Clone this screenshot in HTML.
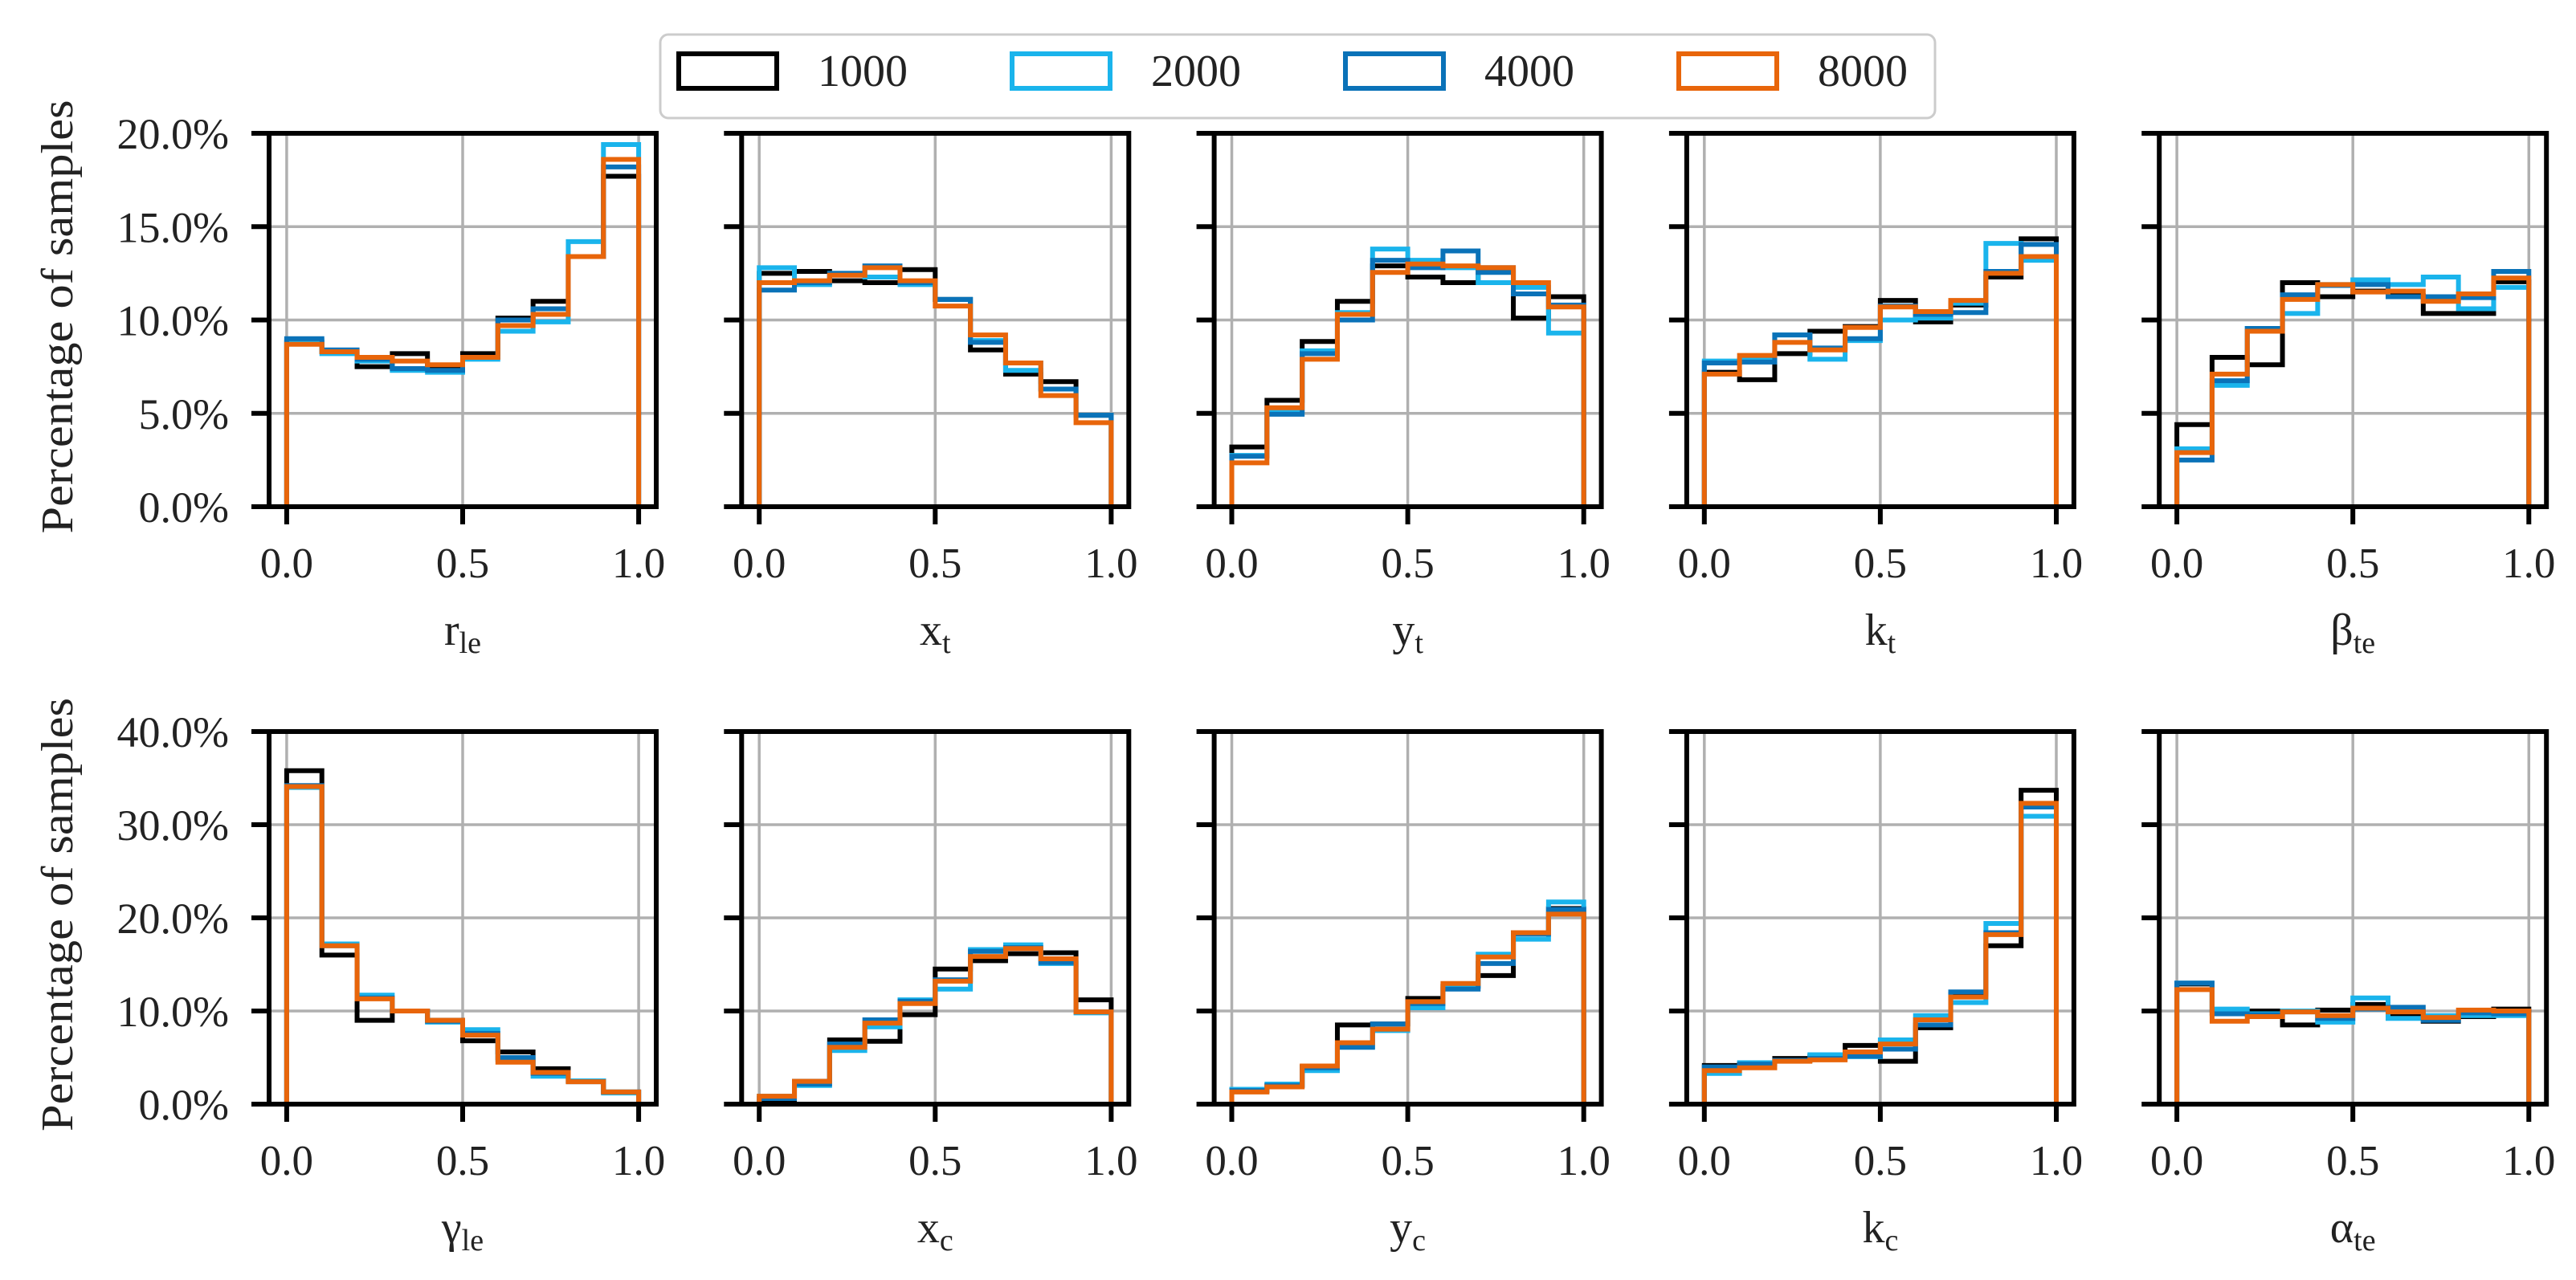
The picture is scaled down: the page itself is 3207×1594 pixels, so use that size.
<!DOCTYPE html>
<html><head><meta charset="utf-8"><style>
html,body{margin:0;padding:0;background:#fff;}
svg{display:block;font-family:"Liberation Serif","DejaVu Serif",serif;}
</style></head><body>
<svg id="chart" xmlns="http://www.w3.org/2000/svg" width="3207" height="1594" viewBox="0 0 3207 1594">
<rect width="3207" height="1594" fill="#fff"/>
<g id="legend">
<rect x="822" y="43" width="1587" height="104" rx="10" fill="#fff" stroke="#cccccc" stroke-width="3"/>
</g>
</svg>
<script>
const seriesNames = ["1000", "2000", "4000", "8000"];
const seriesColors = ["#000000", "#1ab4ec", "#0a72b8", "#e8650a"];
const panelLabels = [["r","le"],["x","t"],["y","t"],["k","t"],["β","te"],["γ","le"],["x","c"],["y","c"],["k","c"],["α","te"]];
const binEdges = [0,0.1,0.2,0.3,0.4,0.5,0.6,0.7,0.8,0.9,1.0];
const xTicks = [0, 0.5, 1.0];
const xTickLabels = ["0.0", "0.5", "1.0"];
const yTicksTop = [0, 5, 10, 15, 20];
const yTicksBottom = [0, 10, 20, 30, 40];

// values in percent, per panel: [1000, 2000, 4000, 8000]
const r_le = [[8.8,8.3,7.5,8.2,7.4,8.2,10.1,11.0,13.4,17.7],[8.9,8.2,7.8,7.3,7.2,7.9,9.4,9.9,14.2,19.4],[9.0,8.4,7.9,7.4,7.3,8.0,10.0,10.6,13.4,18.2],[8.7,8.3,8.0,7.8,7.6,8.0,9.7,10.3,13.4,18.6]];
const x_t = [[12.5,12.6,12.1,12.0,12.7,11.1,8.4,7.1,6.7,4.9],[12.8,11.9,12.5,12.3,11.9,11.1,8.9,7.3,6.3,4.9],[11.6,12.0,12.5,12.9,12.0,11.1,8.8,7.7,6.3,4.9],[12.0,12.1,12.4,12.8,12.1,10.75,9.2,7.7,5.95,4.5]];
const y_t = [[3.2,5.7,8.85,11.0,12.9,12.3,12.0,12.8,10.1,11.25],[2.75,5.1,8.35,10.4,13.8,13.2,12.8,12.0,11.75,9.3],[2.7,4.95,8.2,10.0,13.2,12.8,13.7,12.55,11.4,10.8],[2.35,5.3,7.9,10.3,12.55,13.0,12.9,12.8,12.0,10.7]];
const k_t = [[7.2,6.8,8.2,9.4,9.65,11.05,9.9,10.8,12.3,14.35],[7.8,7.9,9.2,7.9,8.9,10.0,10.1,10.9,14.1,13.2],[7.7,7.75,9.2,8.5,9.0,10.75,10.3,10.4,12.6,14.05],[7.1,8.1,8.8,8.4,9.6,10.7,10.45,11.05,12.5,13.4]];
const beta_te = [[4.4,8.0,7.6,12.0,11.25,11.55,11.3,10.35,10.35,12.05],[3.1,6.5,9.55,10.35,11.9,12.15,11.9,12.3,10.6,11.75],[2.5,6.75,9.55,11.35,11.85,11.9,11.25,11.25,11.2,12.6],[2.9,7.1,9.4,11.1,11.9,11.5,11.55,11.0,11.4,12.25]];
const gamma_le = [[35.8,16.0,9.0,10.0,9.0,6.8,5.6,3.8,2.5,1.3],[34.0,17.2,11.7,10.0,8.8,8.0,4.8,3.0,2.5,1.2],[34.2,17.0,11.4,10.0,8.9,7.6,5.0,3.3,2.4,1.3],[34.1,17.0,11.3,10.0,9.0,7.4,4.5,3.4,2.4,1.3]];
const x_c = [[0.3,2.45,6.9,6.75,9.6,14.5,15.4,16.15,16.25,11.2],[0.85,2.0,5.75,8.3,11.2,12.35,16.6,17.1,15.1,9.8],[0.6,2.15,6.45,9.05,11.05,13.35,16.4,16.8,15.2,9.9],[0.85,2.45,6.1,8.7,10.8,13.2,15.85,16.7,15.6,9.9]];
const y_c = [[1.45,2.0,4.0,8.5,8.6,11.35,12.65,13.8,18.4,21.0],[1.6,2.15,3.6,6.2,7.9,10.35,12.65,16.1,17.7,21.7],[1.45,2.0,3.9,6.1,8.6,10.8,12.35,15.1,18.25,20.9],[1.3,1.85,4.1,6.6,8.05,11.0,12.95,15.8,18.4,20.4]];
const k_c = [[4.15,4.3,4.9,5.15,6.3,4.6,8.2,11.8,17.0,33.7],[3.3,4.45,4.65,5.3,5.1,6.9,9.5,10.9,19.4,30.9],[4.0,4.3,4.7,4.9,5.15,5.9,8.5,12.05,18.4,31.9],[3.6,3.9,4.6,4.75,5.6,6.45,9.05,11.5,18.2,32.3]];
const alpha_te = [[12.9,9.8,10.0,8.5,10.1,10.7,9.6,8.9,9.4,10.2],[13.0,10.2,9.7,10.0,8.8,11.4,9.2,9.5,9.5,9.5],[13.0,9.7,9.6,9.9,9.2,10.2,10.4,9.0,9.8,9.7],[12.3,8.9,9.4,9.9,9.5,10.3,9.9,9.3,10.1,10.0]];
const panelData = [r_le, x_t, y_t, k_t, beta_te, gamma_le, x_c, y_c, k_c, alpha_te];

const NS = "http://www.w3.org/2000/svg";
const svg = document.getElementById("chart");
const PW = 482, COL0 = 335, COLSTEP = 588.3;
const ROWS = [{top:166, bottom:631, ymax:20, ticks:yTicksTop},{top:911, bottom:1375, ymax:40, ticks:yTicksBottom}];

function mk(tag, attrs, parent){
  const e = document.createElementNS(NS, tag);
  for (const k in attrs) e.setAttribute(k, attrs[k]);
  (parent||svg).appendChild(e);
  return e;
}

for (let p = 0; p < 10; p++) {
  const row = ROWS[Math.floor(p/5)], col = p % 5;
  const left = COL0 + col*COLSTEP;
  const xs = v => left + (v + 0.05) / 1.1 * PW;
  const ys = v => row.bottom - v / row.ymax * (row.bottom - row.top);
  const g = mk("g", {});
  
  
  xTicks.forEach(t => {
    const l = mk("line", {x1:xs(t), x2:xs(t), y1:row.top, y2:row.bottom, stroke:"#b0b0b0", "stroke-width":3.5}, g);
    
    
  });
  row.ticks.forEach(t => {
    const l = mk("line", {x1:left, x2:left+PW, y1:ys(t), y2:ys(t), stroke:"#b0b0b0", "stroke-width":3.5}, g);
    
    
  });
  panelData[p].forEach((vals, s) => {
    let d = "M" + xs(binEdges[0]) + "," + ys(0);
    vals.forEach((v, i) => {
      d += " L" + xs(binEdges[i]) + "," + ys(v) + " L" + xs(binEdges[i+1]) + "," + ys(v);
    });
    d += " L" + xs(binEdges[binEdges.length-1]) + "," + ys(0);
    const path = mk("path", {d:d, fill:"none", stroke:seriesColors[s], "stroke-width":6, "stroke-linejoin":"miter"}, g);
    
    
  });
  const box = mk("rect", {x:left, y:row.top, width:PW, height:row.bottom-row.top, fill:"none", stroke:"#000", "stroke-width":6}, g);
  
  
  xTicks.forEach((t, i) => {
    const tk = mk("line", {x1:xs(t), x2:xs(t), y1:row.bottom, y2:row.bottom+22, stroke:"#000", "stroke-width":6}, g);
    
    
    const tl = mk("text", {x:xs(t), y:row.bottom+88, "font-size":53, "text-anchor":"middle", fill:"#222"}, g);
    tl.textContent = xTickLabels[i];
    
    
  });
  row.ticks.forEach(t => {
    const tk = mk("line", {x1:left-22, x2:left, y1:ys(t), y2:ys(t), stroke:"#000", "stroke-width":6}, g);
    
    
    if (col === 0) {
      const tl = mk("text", {x:285, y:ys(t)+19, "font-size":54, "text-anchor":"end", fill:"#222"}, g);
      tl.textContent = t.toFixed(1) + "%";
      
      
    }
  });
  const xl = mk("text", {x:xs(0.5), y:row.bottom+172, "font-size":56, "text-anchor":"middle", fill:"#222"}, g);
  
  
  const m = document.createElementNS(NS, "tspan"); m.textContent = panelLabels[p][0]; xl.appendChild(m);
  const sb = document.createElementNS(NS, "tspan"); sb.setAttribute("font-size", "38"); sb.setAttribute("dy", "10"); sb.textContent = panelLabels[p][1]; xl.appendChild(sb);
  if (col === 0) {
    const cy = (row.top + row.bottom) / 2 - 4;
    const yl = mk("text", {x:0, y:0, transform:"translate(90," + cy + ") rotate(-90)", "font-size":56, "text-anchor":"middle", fill:"#222", textLength:540, lengthAdjust:"spacingAndGlyphs"}, g);
    yl.textContent = "Percentage of samples";
    
    
  }
}

const legend = document.getElementById("legend");
const handleX = [845, 1260, 1675, 2090];
seriesNames.forEach((n, i) => {
  const eg = mk("g", {}, legend);
  
  
  mk("rect", {x:handleX[i], y:67, width:122, height:43, fill:"none", stroke:seriesColors[i], "stroke-width":6}, eg);
  const t = mk("text", {x:handleX[i]+173, y:107, "font-size":56, fill:"#222"}, eg);
  t.textContent = n;
});
</script>
</body></html>
